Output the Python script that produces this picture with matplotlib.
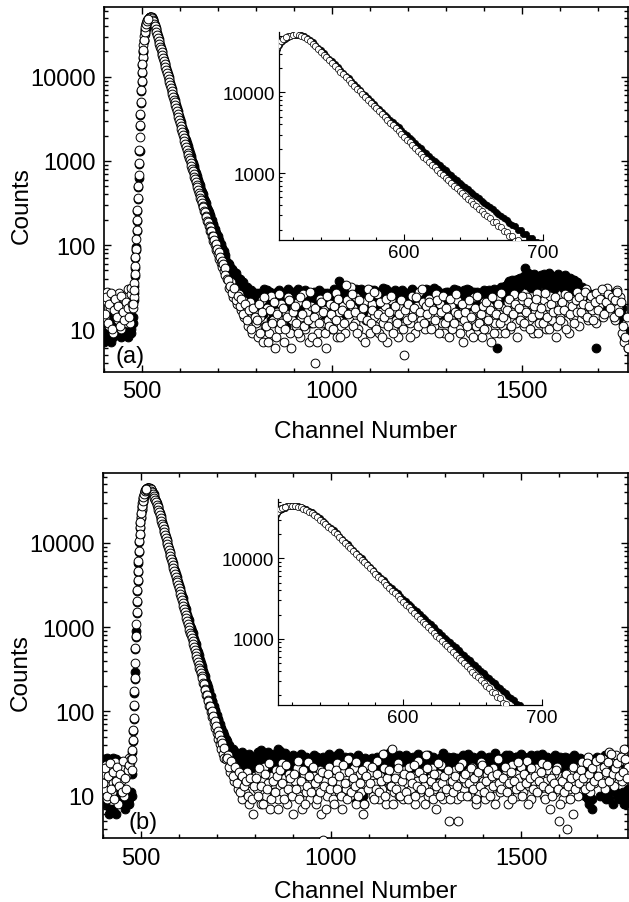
import numpy as np
import matplotlib
matplotlib.use('Agg')
import matplotlib.pyplot as plt
from matplotlib.ticker import (FixedLocator, MultipleLocator, LogLocator,
                               NullFormatter, FuncFormatter)

plt.rcParams['font.family'] = ['Liberation Sans', 'DejaVu Sans']

# channel grids (denser across the peak, interleaved grids elsewhere)
chan_pre = np.arange(400, 476, 4)
chan_pre2 = np.arange(402, 476, 4)
chan_peak = np.arange(476, 721, 2)
chan_rise2 = np.arange(477, 516, 2)
chan_tail = np.arange(725, 1781, 5)
chan_tail2 = np.arange(727, 1778, 5)

# ---- panel (a) ----
open_a_pre = [22, 14, 28, 11, 18, 25, 9, 16, 21, 13, 27, 10, 19, 15, 24, 12, 30, 12, 26]
open_a_pre2 = [15, 24, 12, 20, 27, 10, 17, 23, 14, 19, 11, 25, 16, 13, 21, 18, 14, 31, 20]
filled_a_pre = [7, 12, 9, 15, 10, 13, 8, 16, 11, 14, 9, 12, 10, 15, 11, 9, 10, 11, 9]
filled_a_pre2 = [9, 8, 13, 11, 7, 14, 10, 12, 9, 15, 11, 8, 13, 10, 12, 8, 11, 10, 12]

open_a_peak = [
    18, 24, 35, 56, 91, 151, 263, 501, 955, 1905,
    3631, 6918, 11480, 17380, 23990, 30900, 36310, 40740, 44160, 46770,
    48980, 50120, 51290, 51880, 51290, 50120, 47860, 45710, 42660, 39810,
    37150, 34280, 31620, 29170, 26920, 24830, 22910, 21130, 19500, 17990,
    16600, 15310, 14130, 13030, 12020, 11090, 10230, 9441, 8710, 8035,
    7413, 6839, 6310, 5821, 5370, 4955, 4571, 4217, 3890, 3589,
    3311, 3055, 2818, 2600, 2399, 2213, 2042, 1884, 1738, 1603,
    1479, 1365, 1259, 1180, 1094, 1015, 942, 874, 811, 753,
    699, 648, 602, 560, 521, 485, 452, 420, 391, 365,
    340, 316, 295, 281, 251, 246, 219, 214, 192, 188,
    168, 165, 146, 147, 128, 129, 113, 115, 99, 102,
    88, 90, 78, 82, 69, 72, 61, 65, 55, 59,
    49, 54, 44]
open_a_rise2 = [20, 29, 45, 72, 118, 200, 360, 690, 1340, 2650,
                5050, 9000, 14300, 20600, 27600, 33700, 38700, 42600, 45600, 48000]
filled_a_peak = [
    12, 22, 33, 54, 88, 146, 255, 486, 926, 1300,
    3522, 6710, 11140, 16860, 20420, 27540, 33880, 38460, 42660, 45710,
    47860, 49550, 50700, 51290, 51520, 50700, 48980, 46770, 44160, 41210,
    38460, 35650, 32960, 30550, 28180, 26000, 23990, 22130, 20420, 18840,
    17380, 16030, 14790, 13650, 12590, 11610, 10720, 9886, 9120, 8414,
    7762, 7161, 6607, 6138, 5702, 5297, 4920, 4571, 4246, 3945,
    3664, 3404, 3162, 2938, 2729, 2535, 2355, 2188, 2032, 1888,
    1754, 1629, 1514, 1431, 1334, 1244, 1160, 1081, 1008, 940,
    877, 818, 763, 715, 671, 629, 590, 553, 519, 487,
    456, 428, 402, 378, 355, 333, 313, 294, 277, 260,
    245, 230, 222, 198, 197, 176, 175, 156, 157, 139,
    141, 124, 127, 110, 114, 98, 103, 88, 93, 79,
    85, 71, 77]
filled_a_rise2 = [14, 27, 43, 70, 95, 194, 349, 620, 1300, 2570,
                  4900, 8730, 13870, 19980, 26800, 32700, 37500, 41300, 44200, 46600]

open_a_tail = [
    40, 31, 36, 24, 29, 20, 26, 17, 22, 14, 19, 11, 21, 9, 16, 12,
    8, 14, 22, 7, 11, 18, 9, 25, 13, 6,
    16, 10, 20, 12, 7, 15, 24, 9, 13, 18,
    11, 21, 8, 14, 26, 10, 16, 7, 19, 12,
    4, 15, 9, 23, 12, 17, 6, 13, 20, 10,
    14, 27, 8, 16, 11, 19, 9, 22, 13, 32,
    18, 12, 24, 10, 15, 8, 21, 13, 30, 9,
    20, 14, 11, 26, 9, 16, 12, 19, 7, 15,
    22, 10, 17, 13, 8, 18, 11, 5, 14, 20,
    12, 25, 16, 9, 19, 28, 13, 21, 10, 17,
    23, 14, 18, 11, 26, 15, 20, 12, 9, 17,
    13, 8, 19, 11, 16, 22, 10, 14, 7, 18,
    12, 20, 9, 15, 24, 11, 17, 13, 8, 21,
    14, 10, 19, 7, 16, 12, 23, 9, 15, 11,
    18, 13, 21, 10, 16, 26, 12, 19, 14, 22,
    11, 17, 24, 13, 20, 9, 16, 27, 12, 18,
    15, 22, 10, 19, 25, 13, 17, 8, 21, 14,
    20, 12, 26, 16, 9, 23, 14, 19, 28, 11,
    18, 24, 15, 30, 13, 21, 17, 26, 12, 22,
    19, 27, 14, 23, 31, 16, 20, 25, 13, 29,
    18, 24, 9, 7, 12, 6]
open_a_tail2 = [
    38, 33, 27, 31, 22, 25, 19, 23, 15, 20, 13, 17, 10, 18, 14,
    13, 20, 9, 16, 24, 11, 7, 17, 12, 21,
    8, 15, 26, 12, 18, 10, 14, 22, 6, 16,
    19, 12, 9, 24, 15, 11, 20, 13, 28, 8,
    14, 18, 7, 12, 21, 16, 9, 25, 11, 15,
    10, 19, 13, 23, 8, 17, 12, 34, 15, 20,
    26, 11, 16, 9, 22, 14, 18, 7, 13, 24,
    12, 17, 28, 10, 15, 21, 8, 14, 23, 11,
    16, 25, 9, 19, 12, 15, 22, 10, 17, 13,
    20, 8, 14, 18, 24, 11, 16, 30, 12, 19,
    15, 21, 10, 17, 13, 22, 9, 16, 25, 12,
    18, 14, 23, 10, 12, 26, 15, 9, 20, 13,
    16, 11, 22, 14, 8, 18, 25, 12, 15, 19,
    10, 21, 13, 17, 24, 9, 15, 20, 12, 27,
    14, 9, 17, 23, 11, 15, 20, 8, 18, 13,
    25, 12, 16, 21, 10, 14, 19, 23, 9, 15,
    18, 12, 27, 14, 10, 20, 16, 24, 11, 17,
    13, 21, 17, 10, 25, 15, 19, 12, 22, 16,
    24, 16, 20, 28, 14, 19, 25, 13, 21, 27,
    17, 23, 30, 15, 21, 26, 18, 24, 14, 22,
    28, 16, 21, 11, 8, 14]
filled_a_tail = [
    62, 60, 50, 49, 41, 42, 34, 37, 30, 33, 26, 30, 24, 28, 22, 27,
    24, 18, 27, 15, 22, 29, 20, 13, 25, 19,
    28, 21, 16, 26, 23, 11, 30, 19, 24, 17,
    22, 27, 14, 25, 20, 29, 18, 23, 12, 26,
    19, 24, 28, 16, 22, 27, 21, 10, 25, 20,
    29, 23, 18, 37, 26, 21, 15, 28, 24, 19,
    27, 22, 30, 17, 25, 20, 28, 13, 23, 26,
    21, 29, 24, 18, 27, 22, 31, 16, 25, 20,
    28, 23, 19, 26, 14, 24, 29, 21, 18, 27,
    22, 30, 25, 17, 26, 20, 28, 23, 12, 24,
    29, 21, 26, 31, 19, 24, 27, 15, 22, 28,
    20, 25, 18, 27, 23, 29, 14, 24, 21, 26,
    30, 22, 17, 25, 28, 20, 24, 11, 27, 23,
    26, 19, 29, 22, 27, 25, 6, 21, 32, 24,
    30, 27, 35, 24, 38, 31, 28, 40, 33, 36,
    42, 53, 34, 39, 31, 44, 37, 29, 41, 35,
    38, 45, 32, 40, 36, 43, 30, 39, 34, 42,
    37, 31, 44, 35, 40, 28, 38, 33, 36, 30,
    27, 32, 24, 29, 21, 26, 19, 23, 6, 25,
    22, 18, 26, 20, 24, 17, 27, 21, 15, 23,
    20, 14, 18, 8, 10, 6]
filled_a_tail2 = [
    61, 55, 52, 45, 46, 39, 40, 35, 36, 29, 32, 27, 29, 25, 26,
    21, 27, 17, 25, 30, 19, 23, 28, 16, 24,
    26, 20, 29, 23, 18, 27, 22, 25, 14, 28,
    20, 25, 30, 17, 24, 21, 27, 19, 26, 22,
    28, 16, 23, 29, 20, 25, 13, 27, 22, 18,
    24, 30, 20, 26, 33, 22, 27, 19, 25, 29,
    21, 26, 18, 28, 24, 30, 16, 25, 22, 27,
    29, 19, 25, 22, 28, 20, 26, 23, 30, 17,
    24, 27, 21, 29, 18, 25, 22, 28, 20, 26,
    27, 23, 29, 19, 25, 28, 21, 26, 24, 30,
    18, 26, 23, 28, 22, 29, 25, 20, 27, 24,
    25, 28, 21, 26, 30, 19, 24, 27, 22, 29,
    23, 26, 29, 20, 25, 22, 28, 24, 18, 27,
    29, 24, 21, 27, 25, 30, 22, 28, 26, 31,
    28, 33, 26, 37, 30, 34, 39, 29, 36, 41,
    38, 43, 36, 47, 40, 33, 45, 39, 35, 42,
    44, 37, 41, 35, 46, 39, 33, 42, 38, 45,
    40, 34, 42, 37, 31, 41, 36, 39, 32, 35,
    30, 26, 28, 23, 27, 22, 25, 20, 24, 21,
    25, 21, 28, 19, 23, 26, 20, 24, 18, 22,
    19, 22, 16, 12, 9, 7]

# ---- panel (b) ----
open_b_pre = [18, 12, 23, 9, 16, 20, 11, 14, 25, 13, 8, 19, 15, 22, 10, 17, 24, 28, 24]
open_b_pre2 = [14, 21, 10, 17, 24, 12, 19, 9, 15, 22, 13, 18, 11, 26, 16, 12, 20, 23, 27]
filled_b_pre = [27, 25, 9, 28, 6, 24, 26, 7, 23, 27, 25, 12, 22, 10, 8, 11, 9, 8, 10]
filled_b_pre2 = [26, 8, 27, 24, 7, 25, 28, 22, 6, 26, 10, 24, 9, 23, 7, 10, 8, 9, 11]

open_b_peak = [
    20, 35, 60, 120, 251, 562, 1096, 2042, 3631, 6026,
    10470, 15490, 20420, 25120, 29510, 33110, 36730, 39810, 42170, 43650,
    44670, 45190, 45190, 44670, 44160, 43150, 41690, 39810, 38020, 36310,
    34280, 32360, 30550, 28510, 26610, 24830, 23170, 21630, 19950, 18410,
    16980, 15670, 14450, 13340, 12300, 11350, 10470, 9661, 8913, 8222,
    7586, 6998, 6457, 5957, 5495, 5070, 4677, 4315, 3981, 3673,
    3388, 3126, 2884, 2661, 2455, 2265, 2089, 1928, 1778, 1641,
    1514, 1396, 1288, 1189, 1096, 1012, 933, 861, 806, 743,
    685, 631, 582, 537, 495, 457, 421, 389, 359, 331,
    306, 282, 261, 247, 218, 211, 186, 181, 158, 155,
    135, 134, 116, 116, 99, 101, 85, 88, 73, 76,
    63, 67, 55, 59, 47, 52, 41, 46, 36, 42,
    31, 37, 28]
open_b_rise2 = [27, 46, 84, 172, 375, 790, 1500, 2740, 4700, 7950,
                12800, 17900, 22800, 27300, 31400, 35000, 38300, 41100, 42900, 44200]
filled_b_peak = [
    10, 33, 58, 116, 243, 545, 900, 1980, 3520, 5850,
    10160, 15030, 19800, 24370, 27540, 31620, 35080, 38460, 41210, 43150,
    44460, 45190, 45410, 45190, 44360, 43150, 42170, 41210, 39360, 37580,
    35480, 33500, 31620, 29510, 27540, 25700, 23990, 22390, 20650, 19050,
    17580, 16220, 14960, 13800, 12740, 11750, 10840, 10000, 9226, 8511,
    7852, 7244, 6683, 6202, 5754, 5340, 4955, 4598, 4266, 3958,
    3673, 3408, 3162, 2938, 2729, 2535, 2355, 2188, 2032, 1888,
    1754, 1629, 1514, 1403, 1300, 1205, 1117, 1035, 979, 907,
    840, 779, 721, 670, 623, 578, 538, 500, 465, 432,
    402, 374, 348, 323, 301, 279, 260, 242, 225, 210,
    195, 182, 175, 153, 152, 134, 133, 115, 116, 101,
    103, 88, 91, 78, 80, 68, 71, 61, 64, 55,
    57, 49, 52]
filled_b_rise2 = [18, 44, 81, 167, 290, 766, 1455, 2660, 4560, 7710,
                  12400, 17360, 22100, 26500, 30500, 34000, 37200, 39900, 41600, 42900]

open_b_tail = [
    27, 30, 19, 24, 15, 21, 12, 18, 9, 16, 11, 19, 8, 14, 6, 17,
    12, 19, 8, 15, 22, 10, 14, 7, 17, 11,
    20, 9, 13, 24, 11, 16, 8, 18, 12, 6,
    15, 21, 10, 13, 7, 18, 11, 25, 9, 14,
    17, 8, 12, 20, 6, 3, 15, 10, 22, 13,
    9, 16, 24, 11, 14, 7, 19, 12, 27, 10,
    15, 21, 8, 13, 18, 11, 6, 16, 23, 12,
    19, 10, 14, 26, 9, 17, 12, 21, 8, 15,
    13, 36, 11, 18, 24, 10, 16, 9, 20, 14,
    22, 12, 17, 8, 15, 26, 11, 19, 13, 30,
    10, 16, 21, 12, 7, 18, 14, 23, 9, 15,
    11, 5, 17, 13, 20, 9, 5, 16, 24, 12,
    14, 19, 10, 22, 13, 8, 17, 11, 25, 15,
    9, 18, 12, 16, 21, 10, 14, 27, 11, 17,
    13, 20, 8, 15, 23, 12, 18, 10, 16, 22,
    11, 17, 26, 13, 9, 19, 14, 21, 12, 16,
    24, 10, 15, 20, 7, 13, 18, 11, 22, 5,
    14, 9, 17, 4, 12, 19, 6, 15, 21, 10,
    18, 25, 13, 16, 29, 11, 20, 14, 23, 17,
    21, 15, 27, 12, 19, 33, 16, 24, 13, 30,
    20, 26, 15, 36, 18, 22]
open_b_tail2 = [
    28, 22, 26, 17, 22, 14, 19, 11, 17, 13, 15, 10, 16, 9, 13,
    16, 10, 21, 13, 8, 18, 12, 24, 9, 15,
    11, 17, 7, 20, 14, 9, 23, 12, 16, 10,
    18, 12, 26, 9, 15, 20, 8, 13, 17, 11,
    22, 14, 9, 16, 11, 19, 13, 7, 18, 12,
    15, 8, 20, 12, 17, 10, 23, 14, 9, 19,
    11, 16, 13, 25, 10, 14, 20, 8, 17, 12,
    14, 22, 9, 12, 18, 11, 15, 31, 10, 16,
    20, 13, 8, 16, 12, 21, 10, 15, 18, 11,
    9, 17, 14, 23, 10, 13, 19, 12, 16, 8,
    21, 11, 15, 9, 18, 13, 24, 10, 14, 17,
    12, 20, 9, 15, 11, 17, 13, 22, 10, 16,
    18, 10, 14, 21, 12, 16, 9, 19, 13, 23,
    11, 15, 20, 10, 17, 13, 8, 18, 14, 12,
    16, 22, 11, 14, 19, 9, 15, 12, 25, 13,
    10, 18, 14, 8, 16, 21, 12, 17, 11, 15,
    19, 13, 9, 23, 12, 16, 10, 14, 20, 12,
    8, 15, 11, 18, 13, 9, 16, 22, 12, 17,
    14, 20, 16, 12, 24, 18, 13, 21, 15, 26,
    17, 28, 14, 22, 19, 25, 15, 31, 18, 21,
    24, 17, 29, 19, 27, 16]
filled_b_tail = [
    47, 38, 37, 31, 34, 27, 30, 24, 33, 22, 28, 25, 31, 20, 29, 24,
    28, 21, 35, 24, 30, 19, 33, 26, 22, 31,
    25, 36, 20, 29, 23, 32, 18, 27, 24, 30,
    22, 28, 19, 31, 25, 21, 29, 17, 26, 23,
    30, 20, 27, 24, 18, 29, 22, 26, 31, 19,
    25, 28, 21, 32, 23, 19, 27, 24, 20, 29,
    22, 26, 9, 30, 21, 25, 10, 28, 23, 19,
    27, 24, 20, 29, 22, 18, 26, 31, 21, 25,
    33, 23, 19, 27, 24, 30, 20, 26, 22, 28,
    21, 25, 29, 18, 24, 31, 22, 27, 19, 26,
    30, 23, 28, 20, 25, 17, 27, 22, 32, 24,
    19, 26, 23, 29, 21, 25, 18, 28, 22, 27,
    24, 31, 20, 26, 23, 28, 19, 25, 30, 21,
    27, 22, 29, 18, 25, 32, 21, 26, 23, 28,
    20, 30, 24, 27, 19, 25, 29, 22, 26, 31,
    23, 28, 21, 26, 30, 18, 25, 29, 22, 27,
    31, 24, 20, 28, 23, 26, 19, 30, 25, 22,
    27, 21, 29, 24, 18, 26, 22, 30, 20, 25,
    28, 23, 26, 19, 9, 24, 7, 27, 21, 29,
    22, 26, 10, 30, 24, 9, 27, 20, 25, 11,
    23, 9, 28, 8, 10, 12]
filled_b_tail2 = [
    44, 40, 35, 36, 30, 32, 27, 29, 25, 30, 23, 27, 24, 28, 22,
    26, 33, 23, 29, 20, 27, 31, 24, 28, 21,
    30, 23, 27, 34, 22, 26, 29, 21, 25, 28,
    24, 27, 21, 26, 30, 23, 20, 28, 24, 27,
    21, 26, 29, 23, 27, 20, 25, 28, 22, 26,
    27, 22, 25, 30, 20, 26, 23, 29, 24, 21,
    28, 24, 26, 10, 29, 22, 27, 8, 25, 23,
    22, 28, 25, 21, 27, 24, 29, 20, 26, 23,
    26, 21, 29, 24, 27, 22, 25, 28, 23, 30,
    24, 28, 22, 26, 20, 29, 25, 23, 27, 21,
    27, 22, 26, 29, 23, 25, 20, 28, 24, 26,
    23, 29, 25, 21, 27, 24, 28, 22, 26, 30,
    26, 22, 27, 24, 29, 21, 25, 28, 23, 26,
    22, 28, 24, 27, 21, 26, 29, 23, 25, 27,
    28, 23, 26, 30, 22, 27, 24, 29, 21, 25,
    26, 29, 24, 22, 27, 25, 28, 23, 30, 24,
    23, 27, 25, 29, 22, 26, 28, 21, 27, 24,
    29, 22, 26, 24, 28, 20, 25, 27, 23, 26,
    24, 27, 22, 10, 25, 8, 26, 9, 23, 25,
    21, 10, 26, 23, 9, 25, 11, 22, 8, 24,
    10, 22, 9, 11, 8, 10]


def plain_int(v, pos):
    return '%d' % round(v)


def draw_panel(fig, rect, inset_rect, filled, opened, tag, tag_x, labelpad):
    chan = np.concatenate([chan_pre, chan_pre2, chan_peak, chan_rise2,
                           chan_tail, chan_tail2])
    filled = np.concatenate([np.asarray(f, dtype=float) for f in filled])
    opened = np.concatenate([np.asarray(o, dtype=float) for o in opened])

    ax = fig.add_axes(rect)
    ax.scatter(chan, filled, s=40, c='black', edgecolors='black',
               linewidths=0.7, zorder=2)
    ax.scatter(chan, opened, s=40, c='white', edgecolors='black',
               linewidths=0.7, zorder=3)
    ax.set_yscale('log')
    ax.set_xlim(400, 1780)
    ax.set_ylim(3.1, 67000)
    ax.xaxis.set_major_locator(FixedLocator([500, 1000, 1500]))
    ax.xaxis.set_minor_locator(MultipleLocator(100))
    ax.yaxis.set_major_locator(FixedLocator([10, 100, 1000, 10000]))
    ax.yaxis.set_major_formatter(FuncFormatter(plain_int))
    ax.yaxis.set_minor_locator(LogLocator(base=10, subs=np.arange(2, 10), numticks=20))
    ax.yaxis.set_minor_formatter(NullFormatter())
    ax.tick_params(which='both', direction='in', top=True, right=True,
                   labelsize=17, pad=6, width=1.0)
    ax.tick_params(which='major', length=5)
    ax.tick_params(which='minor', length=3)
    for sp in ax.spines.values():
        sp.set_linewidth(1.2)
    ax.set_xlabel('Channel Number', fontsize=17.5, labelpad=labelpad)
    ax.set_ylabel('Counts', fontsize=17.5)
    ax.yaxis.set_label_coords(-0.135, 0.458)
    ax.text(tag_x, 0.045, tag, transform=ax.transAxes, fontsize=17,
            ha='center', va='center', zorder=5)

    # inset: zoom on the decay
    axi = fig.add_axes(inset_rect)
    keep = (chan >= 504) & (chan <= 706)
    axi.scatter(chan[keep], filled[keep], s=20, c='black', edgecolors='black',
                linewidths=0.5, zorder=2)
    axi.scatter(chan[keep], opened[keep], s=20, c='white', edgecolors='black',
                linewidths=0.5, zorder=3)
    axi.set_yscale('log')
    axi.set_xlim(510, 700)
    axi.set_ylim(150, 55000)
    axi.spines['top'].set_visible(False)
    axi.spines['right'].set_visible(False)
    axi.xaxis.set_major_locator(FixedLocator([600, 700]))
    axi.xaxis.set_minor_locator(MultipleLocator(20))
    axi.yaxis.set_major_locator(FixedLocator([1000, 10000]))
    axi.yaxis.set_major_formatter(FuncFormatter(plain_int))
    axi.yaxis.set_minor_locator(LogLocator(base=10, subs=np.arange(2, 10), numticks=20))
    axi.yaxis.set_minor_formatter(NullFormatter())
    axi.tick_params(which='both', direction='in', labelsize=13.5, pad=3, width=0.8)
    axi.tick_params(which='major', length=4)
    axi.tick_params(which='minor', length=2.5)
    for sp in axi.spines.values():
        sp.set_linewidth(0.9)
    return ax, axi


def main():
    fig = plt.figure(figsize=(6.29, 9.03), dpi=100)

    draw_panel(fig, [0.1653, 0.5869, 0.833, 0.4039],
               [0.444, 0.7334, 0.4188, 0.2297],
               [filled_a_pre, filled_a_pre2, filled_a_peak, filled_a_rise2,
                filled_a_tail, filled_a_tail2],
               [open_a_pre, open_a_pre2, open_a_peak, open_a_rise2,
                open_a_tail, open_a_tail2],
               '(a)', 0.05, 13)
    draw_panel(fig, [0.1633, 0.0705, 0.8347, 0.4042],
               [0.4425, 0.2182, 0.4188, 0.2281],
               [filled_b_pre, filled_b_pre2, filled_b_peak, filled_b_rise2,
                filled_b_tail, filled_b_tail2],
               [open_b_pre, open_b_pre2, open_b_peak, open_b_rise2,
                open_b_tail, open_b_tail2],
               '(b)', 0.077, 8)

    fig.savefig('out.png', dpi=100)


if __name__ == '__main__':
    main()
